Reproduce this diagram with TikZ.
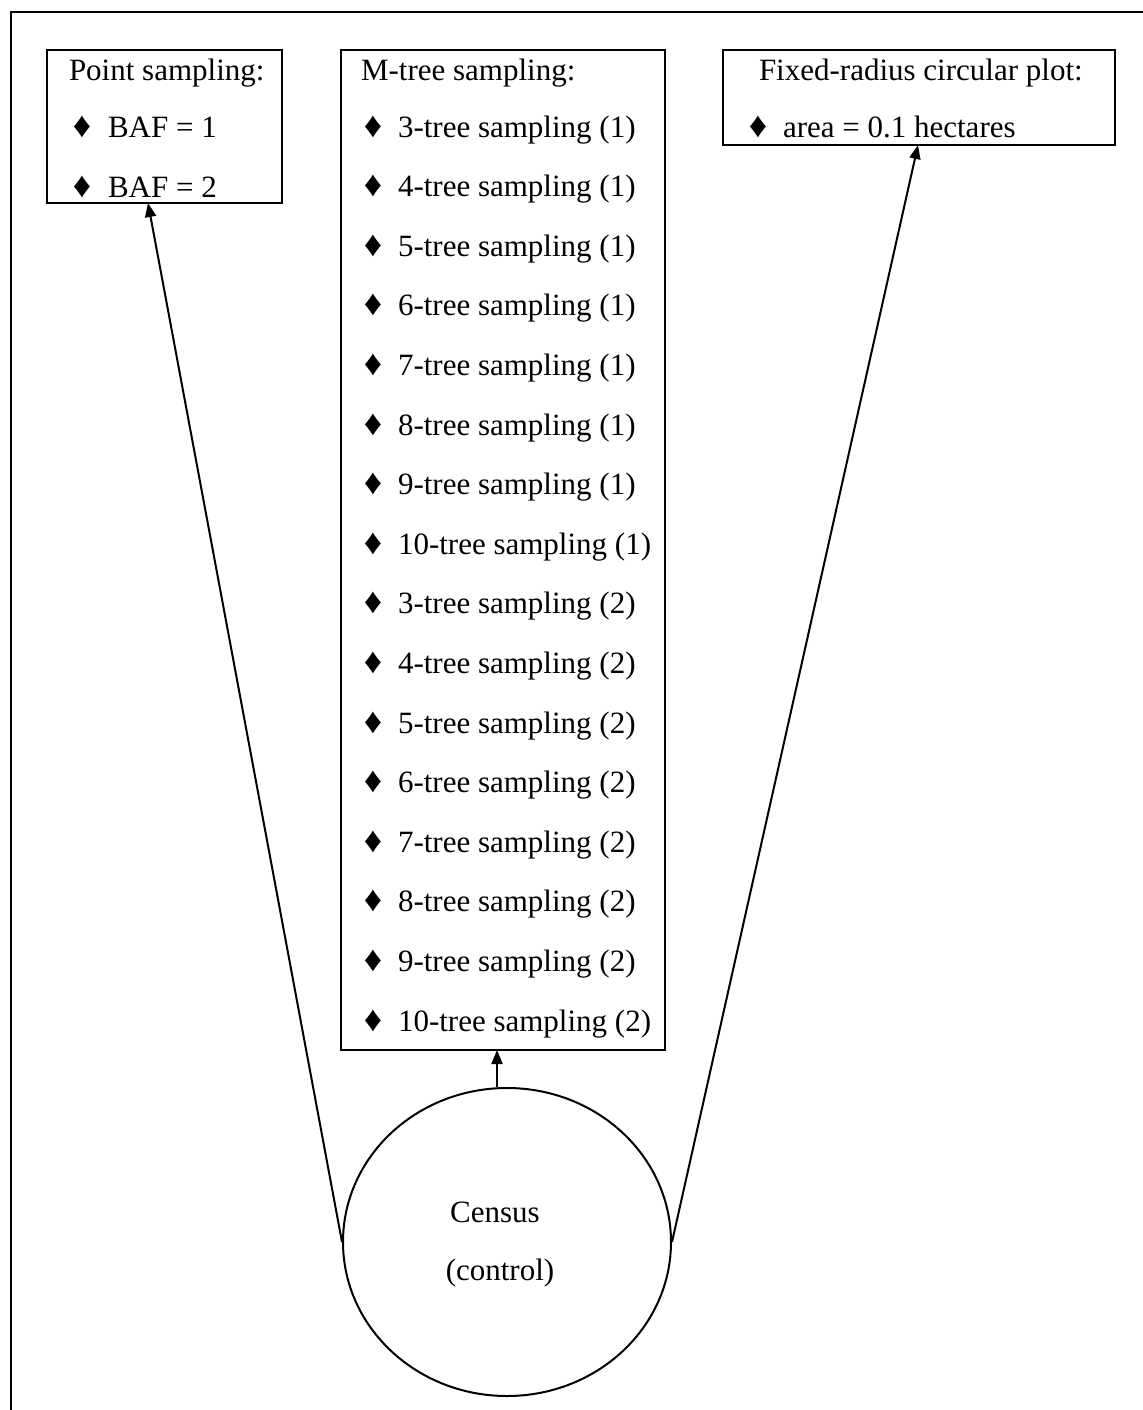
\documentclass[tikz,border=0pt]{standalone}
\usepackage{fontspec}
\setmainfont{Liberation Serif}
\usetikzlibrary{arrows.meta,fit,shapes.geometric}
\begin{document}
\begin{tikzpicture}[x=0.5pt,y=-0.5pt, line width=1pt,
  box/.style={draw, inner sep=0pt, line width=1pt},
  txt/.style={anchor=base west, inner sep=0pt, font=\fontsize{15.5}{18}\selectfont},
  ctxt/.style={anchor=base, inner sep=0pt, font=\fontsize{15.5}{18}\selectfont},
  bul/.style={anchor=base, inner sep=0pt, font=\fontsize{18}{20}\selectfont},
  arr/.style={-{Triangle[length=7pt,width=5.5pt]}, line width=1pt}]
\useasboundingbox (0,0) rectangle (1143,1410);
% outer frame (only left and top edges visible)
\draw[line width=1.1pt] (11,1420) -- (11,12) -- (1160,12);

% boxes
\node[box, fit={(47,50) (282,203)}] (point) {};
\node[box, fit={(341,50) (665,1050)}] (mtree) {};
\node[box, fit={(723,50) (1115,145)}] (fixed) {};
\node[draw, ellipse, inner sep=0pt, minimum width=164pt, minimum height=154pt, line width=1pt] (census) at (507,1242) {};

% point sampling
\node[txt] (pt) at (68,80) {Point sampling:};
\node[bul] (pb1) at (82,137) {♦};
\node[txt] (p1) at (107,137) {BAF = 1};
\node[bul] (pb2) at (82,197) {♦};
\node[txt] (p2) at (107,197) {BAF = 2};

% M-tree sampling
\node[txt] (mt) at (360,80) {M-tree sampling:};
\foreach \lab [count=\i] in {3-tree sampling (1),4-tree sampling (1),5-tree sampling (1),6-tree sampling (1),7-tree sampling (1),8-tree sampling (1),9-tree sampling (1),10-tree sampling (1),3-tree sampling (2),4-tree sampling (2),5-tree sampling (2),6-tree sampling (2),7-tree sampling (2),8-tree sampling (2),9-tree sampling (2),10-tree sampling (2)}{
  \node[bul] (mb\i) at (373,{137+(\i-1)*59.6}) {♦};
  \node[txt] (m\i) at (397,{137+(\i-1)*59.6}) {\lab};
}

% fixed radius
\node[txt] (ft) at (758,80) {Fixed-radius circular plot:};
\node[bul] (fb1) at (758,137) {♦};
\node[txt] (f1) at (782,137) {area = 0.1 hectares};

% census
\node[ctxt] (c1) at (495,1222) {Census};
\node[ctxt] (c2) at (500,1280) {(control)};

% connectors
\coordinate (pa) at (148,203);
\coordinate (fa) at (918,145);
\coordinate (ma) at (497,1050);
\draw[arr] (census.west) -- (pa);
\draw[arr] (census.east) -- (fa);
\draw[arr] (census.north -| ma) -- (ma);
\end{tikzpicture}
\end{document}
